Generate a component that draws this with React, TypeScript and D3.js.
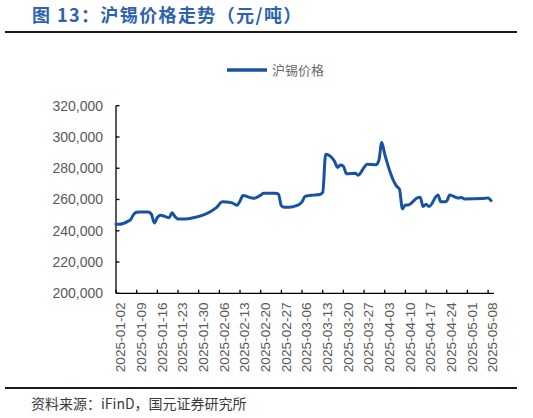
import React, { useEffect, useRef } from 'react';
import * as d3 from 'd3';

// 沪锡价格（元/吨），交易日
const dates = [
  '2025-01-02', '2025-01-03', '2025-01-06', '2025-01-07', '2025-01-08', '2025-01-09', '2025-01-10',
  '2025-01-13', '2025-01-14', '2025-01-15', '2025-01-16', '2025-01-17',
  '2025-01-20', '2025-01-21', '2025-01-22', '2025-01-23', '2025-01-24', '2025-01-27',
  '2025-02-05', '2025-02-06', '2025-02-07',
  '2025-02-10', '2025-02-11', '2025-02-12', '2025-02-13', '2025-02-14',
  '2025-02-17', '2025-02-18', '2025-02-19', '2025-02-20', '2025-02-21',
  '2025-02-24', '2025-02-25', '2025-02-26', '2025-02-27', '2025-02-28',
  '2025-03-03', '2025-03-04', '2025-03-05', '2025-03-06', '2025-03-07',
  '2025-03-10', '2025-03-11', '2025-03-12', '2025-03-13', '2025-03-14',
  '2025-03-17', '2025-03-18', '2025-03-19', '2025-03-20', '2025-03-21',
  '2025-03-24', '2025-03-25', '2025-03-26', '2025-03-27', '2025-03-28',
  '2025-03-31', '2025-04-01', '2025-04-02', '2025-04-03',
  '2025-04-07', '2025-04-08', '2025-04-09', '2025-04-10', '2025-04-11',
  '2025-04-14', '2025-04-15', '2025-04-16', '2025-04-17', '2025-04-18',
  '2025-04-21', '2025-04-22', '2025-04-23', '2025-04-24', '2025-04-25',
  '2025-04-28', '2025-04-29', '2025-04-30',
  '2025-05-06', '2025-05-07', '2025-05-08', '2025-05-09',
];

const prices = [
  244300, 244100, 246000, 247200, 250500, 251800, 252000,
  252000, 250500, 245000, 248500, 250000,
  248300, 251500, 249000, 247600, 247500, 247900,
  254800, 257000, 258600,
  258000, 257200, 256300, 259000, 262500,
  261000, 260800, 261700, 262800, 264000,
  264000, 264000, 263500, 256000, 255000,
  255400, 256000, 256800, 258500, 262000,
  262800, 263000, 263200, 264500, 289000,
  284500, 280500, 282000, 281300, 276500,
  276800, 275500, 277500, 280500, 282500,
  282300, 285000, 296500, 289000,
  268500, 266500, 254000, 256500, 256500,
  261000, 261500, 255500, 257000, 255500,
  262800, 258500, 258500, 259000, 262800,
  261000, 261200, 260300,
  260600, 260800, 261000, 259300,
];

const tickDates = [
  '2025-01-02', '2025-01-09', '2025-01-16', '2025-01-23', '2025-01-30',
  '2025-02-06', '2025-02-13', '2025-02-20', '2025-02-27',
  '2025-03-06', '2025-03-13', '2025-03-20', '2025-03-27',
  '2025-04-03', '2025-04-10', '2025-04-17', '2025-04-24',
  '2025-05-01', '2025-05-08',
];

const yTicks = [200000, 220000, 240000, 260000, 280000, 300000, 320000];

const seriesName = '沪锡价格';
const title = '图 13：沪锡价格走势（元/吨）';
const source = '资料来源：iFinD，国元证券研究所';

export default function App() {
  const svgRef = useRef<SVGSVGElement>(null);

  useEffect(() => {
    if (!svgRef.current) return;
    const svg = d3.select(svgRef.current);
    svg.selectAll('*').remove();

    const parse = d3.utcParse('%Y-%m-%d');
    const data = dates.map((d, i) => ({ date: parse(d)!, value: prices[i] }));

    const left = 116;
    const right = 494;
    const top = 105.7;
    const bottom = 293.3;

    const x = d3.scaleUtc()
      .domain([parse('2025-01-02')!, parse('2025-05-10')!])
      .range([left, right]);
    const y = d3.scaleLinear().domain([200000, 320000]).range([bottom, top]);

    const lineColor = '#1753a1';
    const textGray = '#595959';
    const latin = 'Liberation Sans, Arial, sans-serif';
    const cjk = '"Noto Sans CJK SC", sans-serif';

    // title
    svg.append('text')
      .attr('x', 32)
      .attr('y', 22)
      .attr('font-family', cjk)
      .attr('font-size', 18)
      .attr('font-weight', 'bold')
      .attr('fill', '#2d62ad')
      .attr('letter-spacing', 1.4)
      .text(title);

    // rules
    [32, 388].forEach(ry => {
      svg.append('line')
        .attr('x1', 5).attr('x2', 517)
        .attr('y1', ry).attr('y2', ry)
        .attr('stroke', '#1a1a1a')
        .attr('stroke-width', 2);
    });

    // legend
    svg.append('line')
      .attr('x1', 227).attr('x2', 267)
      .attr('y1', 70).attr('y2', 70)
      .attr('stroke', lineColor)
      .attr('stroke-width', 3.5);
    svg.append('text')
      .attr('x', 272)
      .attr('y', 70)
      .attr('dy', '0.35em')
      .attr('font-family', cjk)
      .attr('font-size', 13)
      .attr('fill', '#6a6a6a')
      .text(seriesName);

    // y axis
    svg.append('line')
      .attr('x1', left).attr('x2', left)
      .attr('y1', top).attr('y2', bottom)
      .attr('stroke', '#000')
      .attr('stroke-width', 1.3);
    yTicks.forEach(t => {
      svg.append('line')
        .attr('x1', left).attr('x2', left + 3.5)
        .attr('y1', y(t)).attr('y2', y(t))
        .attr('stroke', '#000')
        .attr('stroke-width', 1.3);
      svg.append('text')
        .attr('x', 103)
        .attr('y', y(t))
        .attr('dy', '0.35em')
        .attr('text-anchor', 'end')
        .attr('font-family', latin)
        .attr('font-size', 14)
        .attr('fill', textGray)
        .text(d3.format(',')(t));
    });

    // x axis
    svg.append('line')
      .attr('x1', left).attr('x2', right)
      .attr('y1', bottom).attr('y2', bottom)
      .attr('stroke', '#000')
      .attr('stroke-width', 1.3);
    tickDates.forEach(t => {
      const tx = x(parse(t)!);
      svg.append('line')
        .attr('x1', tx).attr('x2', tx)
        .attr('y1', bottom).attr('y2', bottom - 3.5)
        .attr('stroke', '#000')
        .attr('stroke-width', 1.3);
      svg.append('text')
        .attr('transform', `translate(${tx + 4.5},${bottom + 9}) rotate(-90)`)
        .attr('dy', '0.35em')
        .attr('text-anchor', 'end')
        .attr('font-family', latin)
        .attr('font-size', 13.7)
        .attr('fill', textGray)
        .text(t);
    });

    // series
    const line = d3.line<{ date: Date; value: number }>()
      .x(d => x(d.date))
      .y(d => y(d.value))
      .curve(d3.curveMonotoneX);
    svg.append('path')
      .datum(data)
      .attr('d', line)
      .attr('fill', 'none')
      .attr('stroke', lineColor)
      .attr('stroke-width', 3)
      .attr('stroke-linejoin', 'round')
      .attr('stroke-linecap', 'round');

    // source
    svg.append('text')
      .attr('x', 31)
      .attr('y', 409)
      .attr('font-family', cjk)
      .attr('font-size', 14)
      .attr('fill', '#3a3a3a')
      .text(source);
  }, []);

  return (
    <div style={{ position: 'absolute', left: 0, top: 0, width: 533, height: 418, background: '#fff' }}>
      <svg ref={svgRef} width={533} height={418} viewBox="0 0 533 418" />
    </div>
  );
}
